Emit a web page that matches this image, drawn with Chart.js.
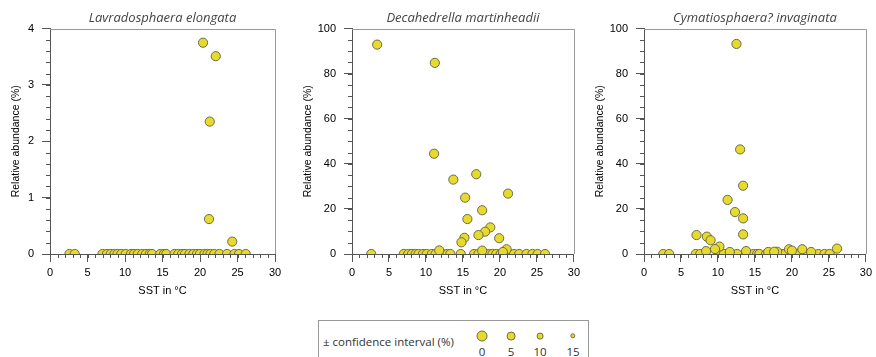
<!DOCTYPE html>
<html>
<head>
<meta charset="utf-8">
<script src="https://cdn.jsdelivr.net/npm/chart.js@4/dist/chart.umd.min.js"></script>
<style>
    body { margin: 0; width: 876px; height: 357px; background: #fff; position: relative; overflow: hidden; }
    .panel { position: absolute; top: 0; width: 292px; height: 300px; }
    #legend {
        position: absolute; left: 318px; top: 320px; width: 269px; height: 60px;
        border: 1px solid #999; font-family: 'Open Sans', 'Noto Sans', sans-serif; color: #333;
    }
    #legend .lbl { position: absolute; left: 4px; top: 13px; font-size: 11.5px; }
    #legend .dot { position: absolute; border-radius: 50%; background: #e6da2b; border: 1px solid #6e6a50; transform: translate(-50%, -50%); }
    #legend .num { position: absolute; top: 23px; font-size: 11.5px; transform: translateX(-50%); }
</style>
</head>
<body>
<canvas id="c1" class="panel" style="left:0" width="292" height="300"></canvas>
<canvas id="c2" class="panel" style="left:292px" width="292" height="300"></canvas>
<canvas id="c3" class="panel" style="left:584px" width="292" height="300"></canvas>
<div id="legend"><span class="lbl">± confidence interval (%)</span></div>

<script>
// ─── Data (SST in °C vs relative abundance in %) ─────────────────────────────
const lavraSst = [2.6, 3.3, 7.0, 7.6, 8.1, 8.6, 9.0, 9.5, 10.1, 10.8, 11.2, 11.7, 12.3, 12.8, 13.3, 13.6,
    14.7, 15.2, 15.5, 16.6, 17.1, 17.6, 18.0, 18.6, 19.1, 19.6, 20.0, 20.6, 21.0, 21.4, 21.9, 22.6,
    23.6, 24.6, 25.2, 26.1, 20.4, 22.1, 21.3, 21.2, 24.3];
const lavraAbund = [0, 0, 0, 0, 0, 0, 0, 0, 0, 0, 0, 0, 0, 0, 0, 0,
    0, 0, 0, 0, 0, 0, 0, 0, 0, 0, 0, 0, 0, 0, 0, 0,
    0, 0, 0, 0, 3.75, 3.51, 2.35, 0.62, 0.22];

const decahSst = [2.6, 7.0, 7.6, 8.1, 8.6, 9.0, 9.6, 10.1, 10.8, 11.3, 12.3, 12.9, 13.3, 14.7, 16.5,
    17.1, 18.0, 18.6, 19.0, 19.5, 20.1, 20.6, 21.3, 21.9, 22.6, 23.6, 24.4, 25.1, 26.1,
    3.4, 11.2, 11.1, 13.7, 16.8, 21.1, 15.3, 15.6, 17.6, 18.7, 18.0, 17.1, 15.2, 14.8, 19.9, 20.9, 11.8, 17.6, 20.4];
const decahAbund = [0, 0, 0, 0, 0, 0, 0, 0, 0, 0, 0, 0, 0, 0, 0,
    0, 0, 0, 0, 0, 0, 0, 0, 0, 0, 0, 0, 0, 0,
    92.9, 84.8, 44.5, 33.0, 35.4, 26.8, 25.0, 15.5, 19.4, 11.8, 9.9, 8.4, 7.2, 5.2, 7.0, 2.1, 1.6, 1.5, 0.9];

const cymatSst = [2.6, 3.4, 7.0, 7.6, 10.0, 10.8, 11.9, 12.6, 14.8, 15.3, 15.6, 16.5, 18.6, 19.0, 20.6,
    21.9, 23.6, 24.4, 25.1,
    12.5, 13.0, 13.4, 11.3, 12.3, 13.4, 13.4, 7.1, 8.5, 9.0, 10.2, 9.6, 26.1, 19.6, 21.4, 20.0,
    13.8, 8.4, 11.6, 18.0, 16.8, 17.6, 22.6];
const cymatAbund = [0, 0, 0, 0, 0, 0, 0, 0, 0, 0, 0, 0, 0, 0, 0,
    0, 0, 0, 0,
    93.2, 46.4, 30.3, 24.0, 18.6, 15.8, 8.7, 8.4, 7.7, 6.1, 3.3, 2.2, 2.4, 2.1, 2.1, 1.5,
    1.3, 1.3, 0.9, 1.0, 0.9, 1.0, 0.9];

const ciLevels = ['0', '5', '10', '15'];

// ─── Styling ──────────────────────────────────────────────────────────────────
const COLORS = {
    fill: '#e6da2b',
    edge: '#6e6a50',
    axis: '#555',
    frame: '#999',
    text: '#000',
    title: '#444',
};
const TICK_FONT = { family: "'Liberation Sans', Arial, sans-serif", size: 11 };

// minor ticks + gray top/right frame
const minorTicks = {
    id: 'minorTicks',
    afterDraw(chart, args, opts) {
        const { ctx, chartArea: a, scales: { x, y } } = chart;
        ctx.save();
        ctx.lineWidth = 1;
        ctx.strokeStyle = COLORS.axis;
        ctx.beginPath();
        const nx = Math.round((x.max - x.min) / opts.xStep);
        for (let i = 1; i < nx; i++) {
            const px = Math.round(x.getPixelForValue(x.min + i * opts.xStep)) + 0.5;
            ctx.moveTo(px, a.bottom);
            ctx.lineTo(px, a.bottom + 4);
        }
        const ny = Math.round((y.max - y.min) / opts.yStep);
        for (let i = 1; i < ny; i++) {
            const py = Math.round(y.getPixelForValue(y.min + i * opts.yStep)) + 0.5;
            ctx.moveTo(a.left, py);
            ctx.lineTo(a.left - 4, py);
        }
        ctx.stroke();
        ctx.strokeStyle = COLORS.frame;
        ctx.beginPath();
        ctx.moveTo(a.left, Math.round(a.top) + 0.5);
        ctx.lineTo(Math.round(a.right) + 0.5, Math.round(a.top) + 0.5);
        ctx.lineTo(Math.round(a.right) + 0.5, a.bottom);
        ctx.stroke();
        ctx.restore();
    }
};

function makePanel(id, title, xs, ys, yMax, yMajor, yMinor, leftWidth, rightPad) {
    return new Chart(document.getElementById(id), {
        type: 'scatter',
        data: {
            datasets: [{
                data: xs.map((v, i) => ({ x: v, y: ys[i] })),
                backgroundColor: COLORS.fill,
                borderColor: COLORS.edge,
                borderWidth: 1,
                pointRadius: 4.6,
                clip: 0,
            }]
        },
        options: {
            responsive: false,
            animation: false,
            layout: { padding: { left: 0, right: rightPad, top: 0, bottom: 0 } },
            plugins: {
                legend: { display: false },
                tooltip: { enabled: false },
                title: {
                    display: true,
                    fullSize: false,
                    text: title,
                    color: COLORS.title,
                    font: { family: "'Open Sans', 'Noto Sans', sans-serif", size: 13, style: 'italic', weight: 'normal', lineHeight: 1.2 },
                    padding: { top: 10, bottom: 3 },
                },
                minorTicks: { xStep: 1, yStep: yMinor },
            },
            scales: {
                x: {
                    type: 'linear',
                    min: 0, max: 30,
                    afterFit: s => { s.height = 46; },
                    ticks: { stepSize: 5, color: COLORS.text, font: TICK_FONT, padding: 4 },
                    grid: { drawOnChartArea: false, tickLength: 8, tickColor: COLORS.axis },
                    border: { color: COLORS.axis, z: 1 },
                    title: {
                        display: true, text: 'SST in °C', color: COLORS.text,
                        font: { family: "'Liberation Sans', Arial, sans-serif", size: 11 },
                        padding: { top: 0, bottom: 2 },
                    },
                },
                y: {
                    min: 0, max: yMax,
                    afterFit: s => { s.width = leftWidth; },
                    ticks: { stepSize: yMajor, color: COLORS.text, font: TICK_FONT, padding: 8 },
                    grid: { drawOnChartArea: false, tickLength: 8, tickColor: COLORS.axis },
                    border: { color: COLORS.axis, z: 1 },
                    title: {
                        display: true, text: 'Relative abundance (%)', color: COLORS.text,
                        font: { family: "'Liberation Sans', Arial, sans-serif", size: 10.5 },
                        padding: { top: 10, bottom: 0 },
                    },
                },
            },
        },
        plugins: [minorTicks],
    });
}

makePanel('c1', 'Lavradosphaera elongata', lavraSst, lavraAbund, 4, 1, 0.2, 50, 17);
makePanel('c2', 'Decahedrella martinheadii', decahSst, decahAbund, 100, 20, 5, 60, 7);
makePanel('c3', 'Cymatiosphaera? invaginata', cymatSst, cymatAbund, 100, 20, 5, 60, 7);

// ─── Legend (marker size per confidence interval) ───────────────────────────
const legendX = [163, 192, 221, 254];
const legendR = [4.5, 3.4, 2.4, 1.7];
const legend = document.getElementById('legend');
ciLevels.forEach((lvl, i) => {
    const dot = document.createElement('div');
    dot.className = 'dot';
    dot.style.left = legendX[i] + 'px';
    dot.style.top = '15px';
    dot.style.width = dot.style.height = (legendR[i] * 2) + 'px';
    legend.appendChild(dot);
    const num = document.createElement('span');
    num.className = 'num';
    num.style.left = legendX[i] + 'px';
    num.textContent = lvl;
    legend.appendChild(num);
});
</script>
</body>
</html>
